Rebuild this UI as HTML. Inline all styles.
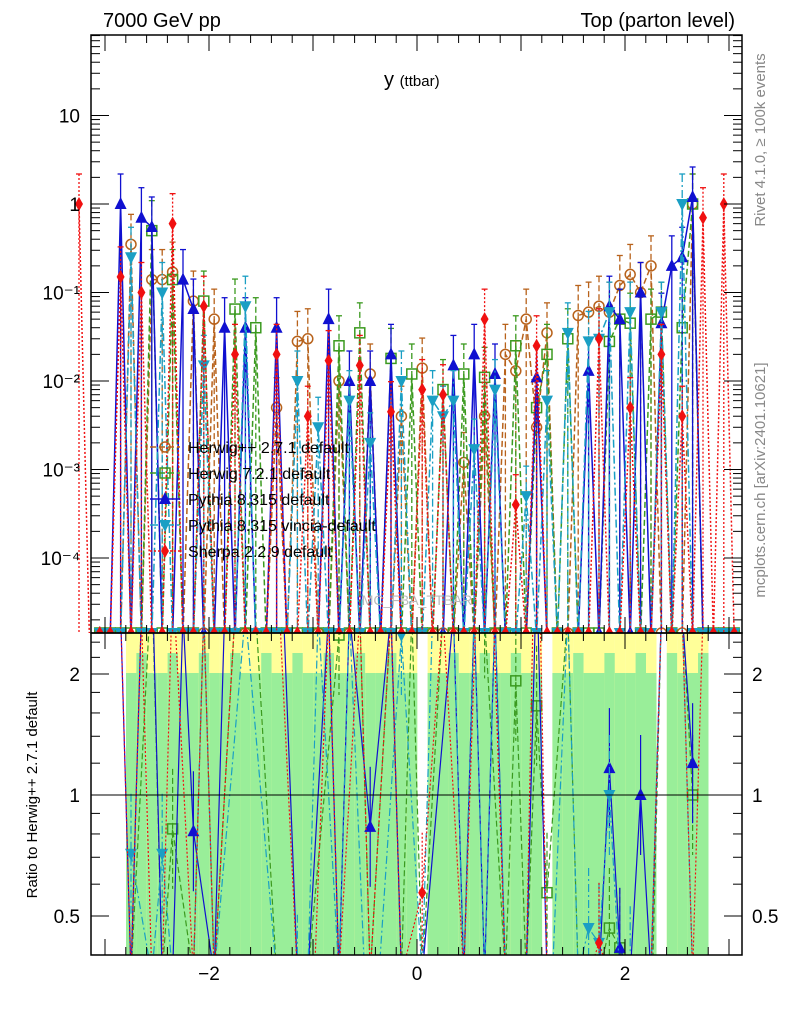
<!DOCTYPE html>
<html><head><meta charset="utf-8">
<style>
html,body{margin:0;background:#fff;font-family:"Liberation Sans",sans-serif;width:786px;height:1024px;overflow:hidden;}
svg{display:block;}
svg text{font-family:"Liberation Sans","DejaVu Sans",sans-serif;}
</style></head>
<body>
<svg id="chart" width="786" height="1024" xmlns="http://www.w3.org/2000/svg">
<g id="bands"></g>
<g id="marks"></g>
<g id="axes"></g>
<text x="103" y="27" font-size="20">7000 GeV pp</text>
<text x="735" y="27" font-size="20" text-anchor="end">Top (parton level)</text>
<text x="384" y="86" font-size="20">y <tspan font-size="15">(ttbar)</tspan></text>
<text x="0" y="0" font-size="15" fill="#888" transform="translate(765,140) rotate(-90)" text-anchor="middle">Rivet 4.1.0, ≥ 100k events</text>
<text x="0" y="0" font-size="15" fill="#888" transform="translate(765,480) rotate(-90)" text-anchor="middle">mcplots.cern.ch [arXiv:2401.10621]</text>
<text x="0" y="0" font-size="15" transform="translate(37,795) rotate(-90)" text-anchor="middle">Ratio to Herwig++ 2.7.1 default</text>
<text x="417" y="605" font-size="14" fill="#bbb" text-anchor="middle">MC_FBA_TTBAR</text>
<g id="legend"></g>
</svg>
<script>
const herwigpp=[0,0,0,0,0,0.35,0,0.14,0.14,0.17,0,0.08,0,0.05,0,0,0,0,0,0.005,0,0.028,0.03,0,0,0.01,0,0,0.012,0,0,0.004,0,0.014,0,0,0,0.0012,0,0.004,0,0.02,0.013,0.05,0.003,0.035,0,0,0.055,0.06,0.07,0.06,0.12,0.16,0.1,0.2,0,0,0,1.0,0,0,0,0,0,0];
const herwig7=[0,0,0,0,0,0,0,0.5,0,0.14,0,0,0.08,0,0,0.065,0,0.04,0,0,0,0,0,0,0,0.025,0,0.035,0,0,0.018,0,0.012,0,0,0.008,0,0.012,0,0.011,0,0,0.025,0,0.005,0.02,0,0.03,0,0,0,0.028,0.05,0.045,0,0.05,0.06,0,0.04,1.0,0,0,0,0,0,0];
const pythia=[0,0,0,0,1.0,0,0.7,0.55,0,0,0.14,0.065,0,0,0.04,0,0.04,0,0,0.04,0,0,0,0,0.05,0,0.01,0,0.01,0,0.02,0,0,0,0,0,0.015,0,0.02,0,0.012,0,0,0,0.011,0,0,0,0,0.013,0,0.07,0.05,0,0.1,0,0.045,0.2,0.25,1.2,0,0,0,0,0,0];
const vincia=[0,0,0,0,0,0.25,0,0,0.1,0,0,0,0.015,0,0,0,0.07,0,0,0,0,0.01,0,0.003,0,0,0.006,0,0.002,0,0,0.01,0,0,0.006,0.004,0.006,0,0.0017,0,0.008,0,0,0.0005,0,0.006,0,0.035,0,0.028,0.03,0.06,0,0.06,0,0,0.06,0,1.0,0,0,0,0,0,0,0];
const sherpa=[1.0,0,0,0,0.15,0,0.1,0,0,0.6,0,0,0.07,0,0,0.02,0,0,0,0.02,0,0,0.004,0,0.017,0,0,0.015,0,0,0.0045,0,0,0.008,0,0.007,0,0,0,0.05,0,0,0.0004,0,0.025,0,0,0,0,0,0.03,0,0,0.005,0,0,0.02,0,0.004,0,0.7,0,1.0,0,0,0];
const xTicks=[-2,0,2];
const yTicks=[1e-4,1e-3,1e-2,1e-1,1,10];
const yTickLabels=["10⁻⁴","10⁻³","10⁻²","10⁻¹","1","10"];
const rTicks=[0.5,1,2];
const rTickLabels=["0.5","1","2"];
const L=91,R=742,T=35,B=633,RT=633,RB=955;
const NS='http://www.w3.org/2000/svg';
function X(v){return 417+v*104;}
function Y(v){return 204-Math.log10(v)*88.5;}
function RY(v){return 795-Math.log2(v)*121;}
function binX(i){return X(-3.25+0.1*i);}
function mk(tag,at,parent){const e=document.createElementNS(NS,tag);for(const k in at)e.setAttribute(k,at[k]);parent.appendChild(e);return e;}
const marks=document.getElementById('marks'),axes=document.getElementById('axes'),bands=document.getElementById('bands'),legend=document.getElementById('legend');
for(let i=5;i<61;i++){
 if(i===33||i===45||i===56) continue;
 const x=binX(i)-5;
 const yb=mk('rect',{x:x,y:RT,width:10.5,height:RB-RT,fill:'#ffff99'},bands);
 
 
 const gy=RT+(i%3===0?20:40);
 const g=mk('rect',{x:x,y:gy,width:10.5,height:RB-gy,fill:'#99ee99'},bands);
 
 
}
const series=[
 {d:herwigpp,c:'#b8621b',dash:'6,3',m:'circle',name:'Herwig++ 2.7.1 default'},
 {d:herwig7,c:'#3b9a1f',dash:'6,3',m:'square',name:'Herwig 7.2.1 default'},
 {d:pythia,c:'#1010d0',dash:'',m:'tri',name:'Pythia 8.315 default'},
 {d:vincia,c:'#1a9fc4',dash:'8,3,2,3',m:'itri',name:'Pythia 8.315 vincia-default'},
 {d:sherpa,c:'#f01010',dash:'2,2',m:'diamond',name:'Sherpa 2.2.9 default'}];
function marker(type,x,y,c,parent){
 let e;
 if(type==='circle') e=mk('circle',{cx:x,cy:y,r:5,fill:'none',stroke:c,'stroke-width':1.5},parent);
 else if(type==='square') e=mk('rect',{x:x-5,y:y-5,width:10,height:10,fill:'none',stroke:c,'stroke-width':1.5},parent);
 else if(type==='tri') e=mk('polygon',{points:`${x},${y-7} ${x-6},${y+5} ${x+6},${y+5}`,fill:c},parent);
 else if(type==='itri') e=mk('polygon',{points:`${x},${y+7} ${x-6},${y-5} ${x+6},${y-5}`,fill:c},parent);
 else e=mk('polygon',{points:`${x},${y-7} ${x-4},${y} ${x},${y+7} ${x+4},${y}`,fill:c},parent);
 return e;
}
const clipM=mk('clipPath',{id:'cm'},document.getElementById('chart'));mk('rect',{x:L-20,y:T,width:R-L+40,height:B-T},clipM);
const clipR=mk('clipPath',{id:'cr'},document.getElementById('chart'));mk('rect',{x:L,y:RT,width:R-L,height:RB-RT},clipR);
const gm=mk('g',{'clip-path':'url(#cm)'},marks);
const gr=mk('g',{'clip-path':'url(#cr)'},marks);
series.forEach((s,si)=>{
 let pts=[],rpts=[];
 s.d.forEach((v,i)=>{
  const x=binX(i);
  pts.push(`${x},${v>0?Y(v):B+5}`);
  if(v>0){
   const eb=mk('line',{x1:x,x2:x,y1:Y(v)-30,y2:B,stroke:s.c,'stroke-width':1.3,'stroke-dasharray':s.dash},gm);
   
   
   mk('line',{x1:x-3,x2:x+3,y1:Y(v)-30,y2:Y(v)-30,stroke:s.c,'stroke-width':1.3},gm);
   const p=marker(s.m,x,Y(v),s.c,gm);
   
   
  } else if(x>L+4&&x<R-4){
   const p=marker(s.m,x,B,s.c,gm);
   
   
  }
  const h=herwigpp[i];
  if(si>0){
   if(h>0&&v>0){
    const r=v/h;rpts.push(`${x},${RY(r)}`);
    const e=mk('line',{x1:x,x2:x,y1:RY(r)-60,y2:RY(r)+60,stroke:s.c,'stroke-width':1.2,'stroke-dasharray':s.dash},gr);
    
    
    const p=marker(s.m,x,RY(r),s.c,gr);
    
    
   } else if(v>0||h>0){
    rpts.push(`${x},${v>0?RT-20:RB+20}`);
   }
  }
 });
 const pl=mk('polyline',{points:pts.join(' '),fill:'none',stroke:s.c,'stroke-width':1.5,'stroke-dasharray':s.dash},gm);
 
 
 if(si>0){
  const rl=mk('polyline',{points:rpts.join(' '),fill:'none',stroke:s.c,'stroke-width':1.2,'stroke-dasharray':s.dash},gr);
  
  
 }
 const ly=447+si*26;
 mk('line',{x1:150,x2:180,y1:ly,y2:ly,stroke:s.c,'stroke-width':1.5,'stroke-dasharray':s.dash},legend);
 marker(s.m,165,ly,s.c,legend);
 const t=mk('text',{x:188,y:ly+6,'font-size':16},legend);t.textContent=s.name;
 
 
});
mk('rect',{x:L,y:T,width:R-L,height:B-T,fill:'none',stroke:'#000','stroke-width':1.5},axes);
mk('rect',{x:L,y:RT,width:R-L,height:RB-RT,fill:'none',stroke:'#000','stroke-width':1.5},axes);
mk('line',{x1:L,x2:R,y1:795,y2:795,stroke:'#000','stroke-width':1},axes);
for(let v=-3;v<=3.001;v+=0.2){const x=X(v),big=Math.abs(v-Math.round(v))<0.01;const l=big?16:8;
 [T,RT].forEach(t=>mk('line',{x1:x,x2:x,y1:t,y2:t+l,stroke:'#000'},axes));
 [B,RB].forEach(b=>mk('line',{x1:x,x2:x,y1:b,y2:b-l,stroke:'#000'},axes));}
xTicks.forEach(v=>{const t=mk('text',{x:X(v),y:980,'font-size':19,'text-anchor':'middle'},axes);t.textContent=(v<0?'−':'')+Math.abs(v);
 });
for(let d=-5;d<=1;d++)for(let k=1;k<10;k++){const v=k*Math.pow(10,d),y=Y(v);if(y<T||y>B)continue;const l=k===1?18:9;
 mk('line',{x1:L,x2:L+l,y1:y,y2:y,stroke:'#000'},axes);mk('line',{x1:R,x2:R-l,y1:y,y2:y,stroke:'#000'},axes);}
yTicks.forEach((v,i)=>{const t=mk('text',{x:80,y:Y(v)+7,'font-size':19,'text-anchor':'end'},axes);t.textContent=yTickLabels[i];
 });
[0.4,0.5,0.6,0.7,0.8,0.9,1,2,1.2,1.4,1.6,1.8,2.2,2.4].forEach(v=>{const y=RY(v);if(y<RT||y>RB)return;const l=rTicks.includes(v)?18:9;
 mk('line',{x1:L,x2:L+l,y1:y,y2:y,stroke:'#000'},axes);mk('line',{x1:R,x2:R-l,y1:y,y2:y,stroke:'#000'},axes);});
rTicks.forEach((v,i)=>{[[80,'end'],[752,'start']].forEach(([x,a])=>{const t=mk('text',{x:x,y:RY(v)+7,'font-size':19,'text-anchor':a},axes);t.textContent=rTickLabels[i];
 });});
</script>
</body></html>
